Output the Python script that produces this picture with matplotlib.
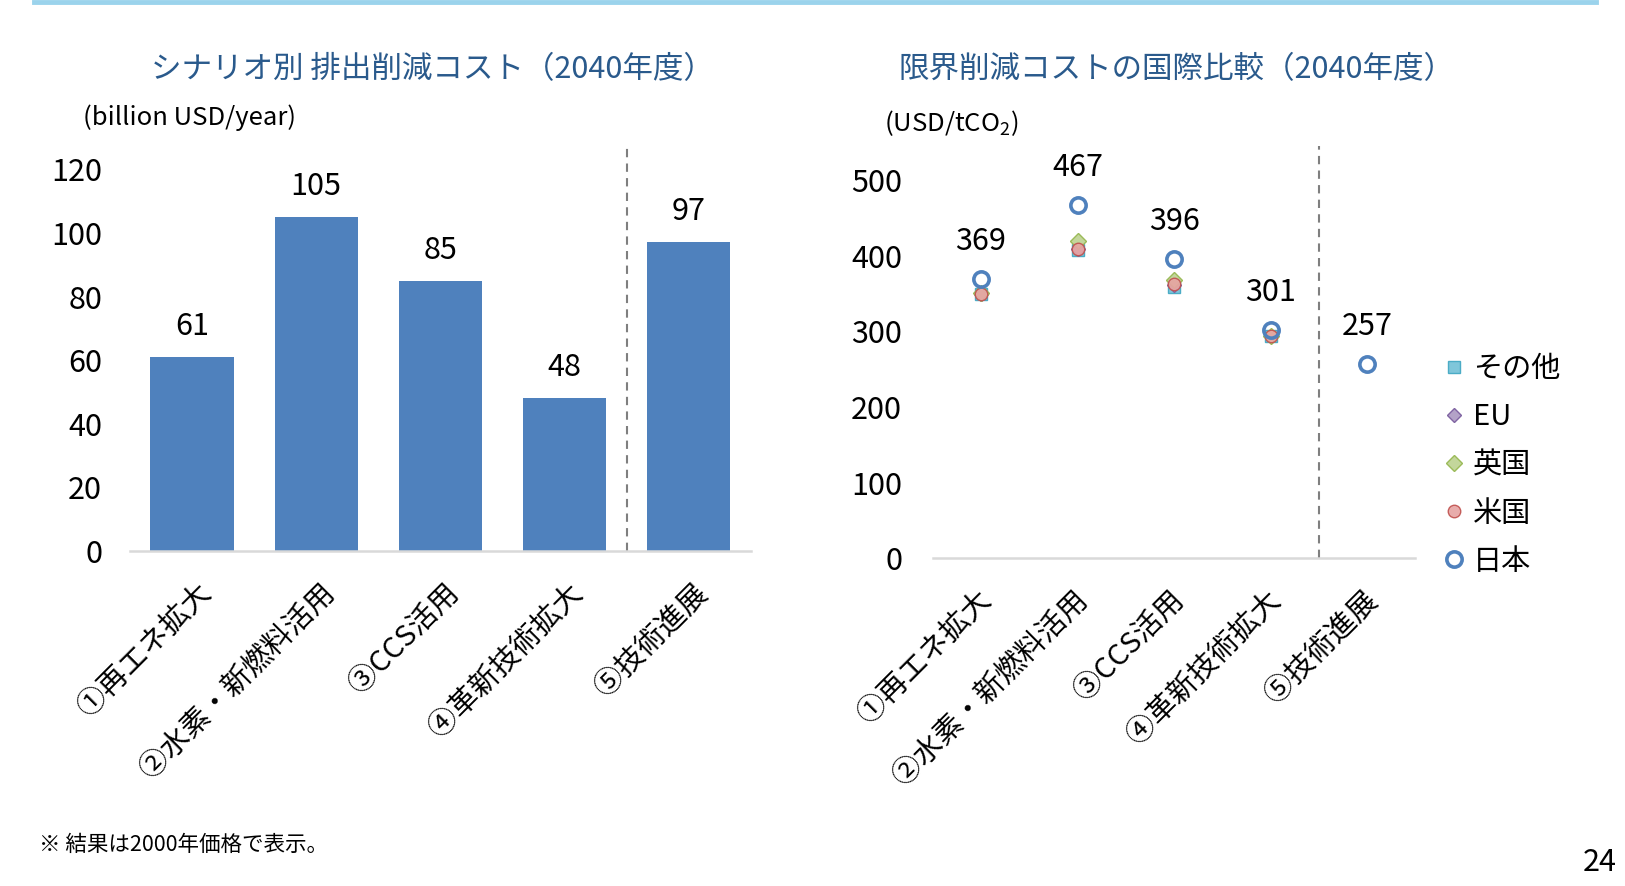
import matplotlib
matplotlib.use("Agg")
import matplotlib.pyplot as plt
import matplotlib.transforms as mtransforms
from matplotlib.lines import Line2D
import numpy as np

plt.rcParams['font.family'] = ['Noto Sans CJK JP', 'DejaVu Sans']
plt.rcParams['mathtext.default'] = 'regular'

# data
scenarios = ["①再エネ拡大", "②水素・新燃料活用", "③CCS活用", "④革新技術拡大", "⑤技術進展"]
cost_total = [61, 105, 85, 48, 97]

countries = ["その他", "EU", "英国", "米国", "日本"]
mac_other = [349, 407, 359, 293, np.nan]
mac_eu = [349, 408, 361, 293, np.nan]
mac_uk = [350, 419, 368, 294, np.nan]
mac_us = [349, 408, 362, 293, np.nan]
mac_japan = [369, 467, 396, 301, 257]

title_color = "#2A5A8C"
bar_color = "#4F81BD"
axis_color = "#D9D9D9"

fig = plt.figure(figsize=(16.25, 8.86), dpi=100)

# top rule
fig.add_artist(Line2D([0.021, 0.982], [0.998, 0.998], color="#9BD3EC", lw=3.5))

x = np.arange(len(scenarios))


def style_axis(ax, ypad, xshift):
    for side in ["top", "right", "left"]:
        ax.spines[side].set_visible(False)
    ax.spines["bottom"].set_color(axis_color)
    ax.spines["bottom"].set_linewidth(1.8)
    ax.tick_params(axis="both", length=0, labelsize=22)
    ax.tick_params(axis="y", pad=ypad)
    ax.set_xlim(-0.5, len(scenarios) - 0.5)
    ax.set_xticks(x)
    ax.set_xticklabels(scenarios, rotation=45, ha="right", va="top",
                       rotation_mode="anchor", fontsize=21)
    ax.tick_params(axis="x", pad=20)
    shift = mtransforms.ScaledTranslation(xshift / 72, 0, fig.dpi_scale_trans)
    for lbl in ax.get_xticklabels():
        lbl.set_transform(lbl.get_transform() + shift)


# left: scenario costs
ax1 = fig.add_axes([0.080, 0.378, 0.382, 0.431])
ax1.bar(x, cost_total, width=0.67, color=bar_color)
ax1.set_ylim(0, 120)
ax1.set_yticks(range(0, 121, 20))
style_axis(ax1, 20, 3)
for xi, v in zip(x, cost_total):
    ax1.annotate(str(v), (xi, v), xytext=(0, 22), textcoords="offset points",
                 ha="center", va="center", fontsize=22)
ax1.plot([3.5, 3.5], [0, 127.5], color="#7F7F7F", lw=1.5, ls=(0, (4, 3)),
         clip_on=False)

# right: marginal abatement cost comparison
ax2 = fig.add_axes([0.574, 0.370, 0.297, 0.427])
ax2.plot(x, mac_other, ls="none", marker="s", ms=8, mfc="#7FC6DA",
         mec="#4BACC6", mew=1, label=countries[0])
ax2.plot(x, mac_eu, ls="none", marker="D", ms=7, mfc="#B3A2C7",
         mec="#8064A2", mew=1, label=countries[1])
ax2.plot(x, mac_uk, ls="none", marker="D", ms=8, mfc="#C3D69B",
         mec="#9BBB59", mew=1, label=countries[2])
ax2.plot(x, mac_us, ls="none", marker="o", ms=9, mfc="#E6A3A2",
         mec="#C0504D", mew=1, alpha=0.9, label=countries[3])
ax2.plot(x, mac_japan, ls="none", marker="o", ms=11, mfc="none",
         mec="#4F81BD", mew=2.6, label=countries[4])
ax2.set_ylim(0, 500)
ax2.set_yticks(range(0, 501, 100))
style_axis(ax2, 22, -3)
for xi, v in zip(x, mac_japan):
    ax2.annotate(str(v), (xi, v), xytext=(0, 27), textcoords="offset points",
                 ha="center", va="center", fontsize=22)
ax2.plot([3.5, 3.5], [0, 545], color="#7F7F7F", lw=1.5, ls=(0, (4, 3)),
         clip_on=False)
ax2.legend(loc="center left", bbox_to_anchor=(1.035, 0.245), frameon=False,
           fontsize=21, handlelength=0.7, handletextpad=0.3, labelspacing=0.62,
           borderaxespad=0)

# titles and units
fig.text(0.266, 0.921, "シナリオ別 排出削減コスト（2040年度）", ha="center",
         va="center", fontsize=22, color=title_color)
fig.text(0.724, 0.921, "限界削減コストの国際比較（2040年度）", ha="center",
         va="center", fontsize=22, color=title_color)
fig.text(0.051, 0.867, "(billion USD/year)", ha="left", va="center", fontsize=18.5)
fig.text(0.544, 0.861, "(USD/tCO$_2$)", ha="left", va="center", fontsize=18.5)

fig.text(0.024, 0.046, "※ 結果は2000年価格で表示。", ha="left", va="center",
         fontsize=15.5)
fig.text(0.995, 0.026, "24", ha="right", va="center", fontsize=22)

fig.savefig("out.png", dpi=100)
